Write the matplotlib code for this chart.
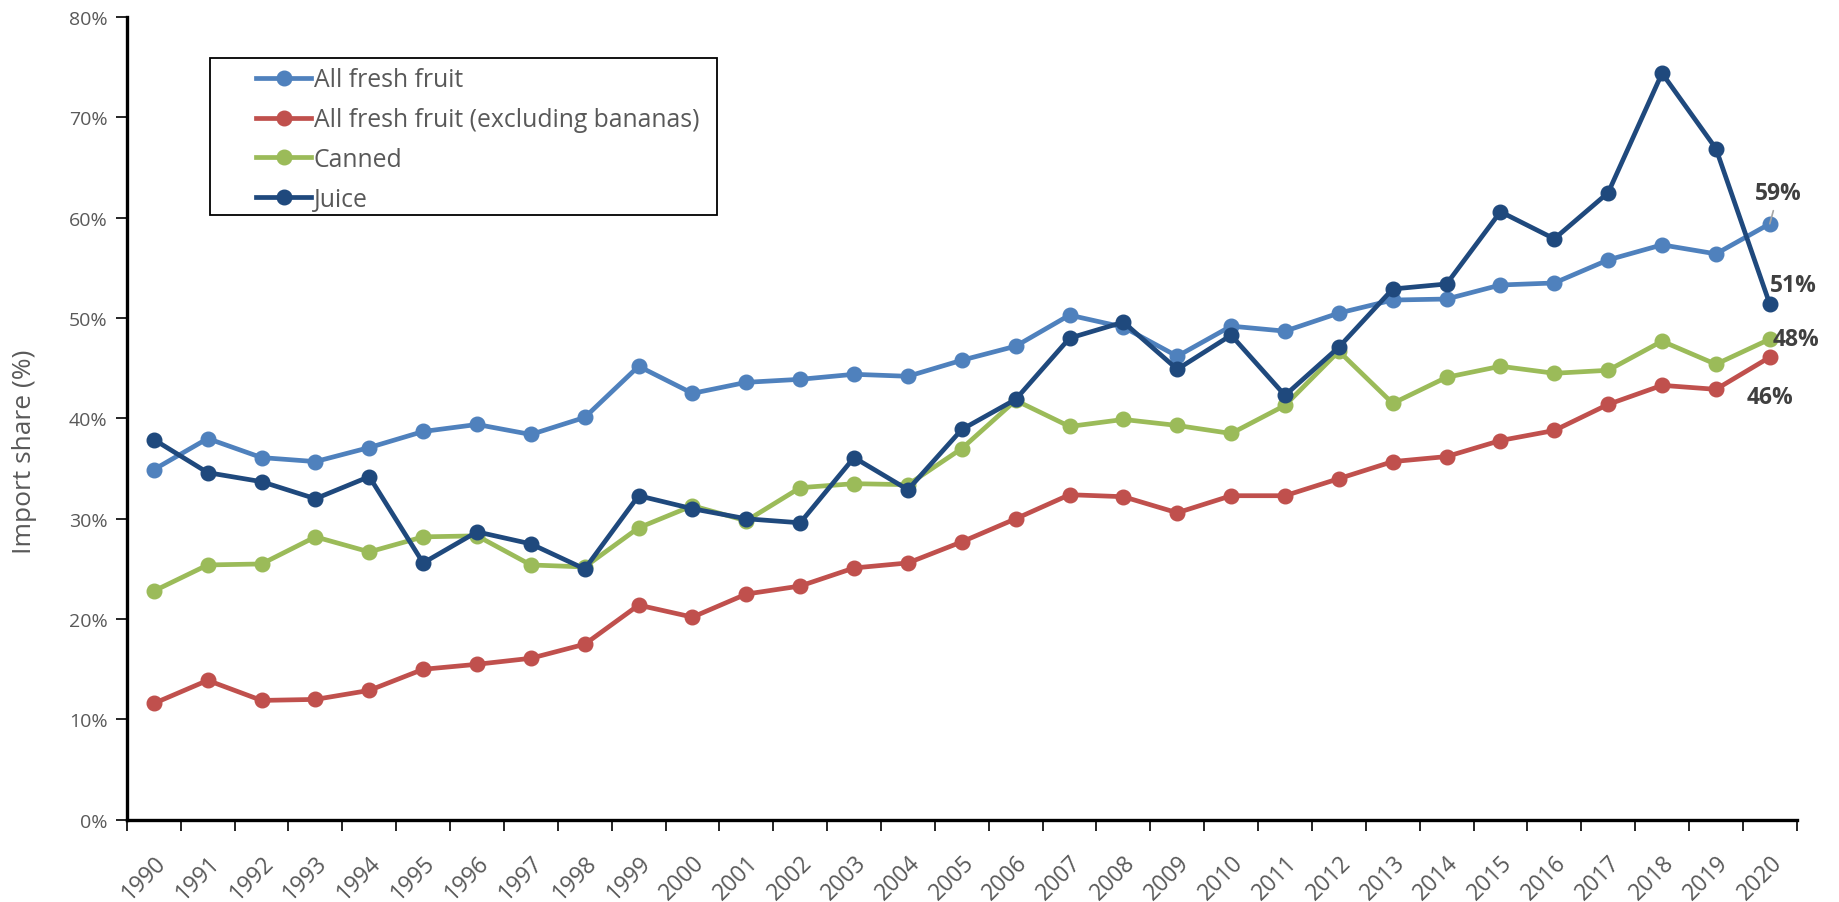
import matplotlib.pyplot as plt
import numpy as np
from matplotlib.lines import Line2D
from matplotlib.patches import Rectangle

plt.rcParams["font.family"] = ["Open Sans", "DejaVu Sans"]

years = list(range(1990, 2021))

# import share, percent
fresh_all = [34.9, 38.0, 36.1, 35.7, 37.1, 38.7, 39.4, 38.4, 40.1, 45.2,
             42.5, 43.6, 43.9, 44.4, 44.2, 45.8, 47.2, 50.3, 49.1, 46.2,
             49.2, 48.7, 50.5, 51.8, 51.9, 53.3, 53.5, 55.8, 57.3, 56.4, 59.4]
fresh_no_bananas = [11.6, 13.9, 11.9, 12.0, 12.9, 15.0, 15.5, 16.1, 17.5, 21.4,
                    20.2, 22.5, 23.3, 25.1, 25.6, 27.7, 30.0, 32.4, 32.2, 30.6,
                    32.3, 32.3, 34.0, 35.7, 36.2, 37.8, 38.8, 41.4, 43.3, 42.9, 46.1]
canned = [22.8, 25.4, 25.5, 28.2, 26.7, 28.2, 28.3, 25.4, 25.2, 29.1,
          31.3, 29.8, 33.1, 33.5, 33.4, 37.0, 41.8, 39.2, 39.9, 39.3,
          38.5, 41.3, 46.7, 41.5, 44.1, 45.2, 44.5, 44.8, 47.7, 45.4, 47.9]
juice = [37.9, 34.6, 33.7, 32.0, 34.2, 25.6, 28.7, 27.5, 25.0, 32.3,
         31.0, 30.0, 29.6, 36.1, 32.9, 38.9, 41.9, 48.0, 49.6, 44.9,
         48.3, 42.3, 47.1, 52.9, 53.4, 60.6, 57.9, 62.5, 74.4, 66.9, 51.4]

series_names = ["All fresh fruit", "All fresh fruit (excluding bananas)", "Canned", "Juice"]
series_values = [fresh_all, fresh_no_bananas, canned, juice]
series_colors = ["#4F81BD", "#C0504D", "#9BBB59", "#1F497D"]

# end-of-line label offsets (points) and alignment
label_offsets = [(6, 22), (0, -20), (2, 0), (0, 5)]
label_align = [("center", "center"), ("center", "top"), ("left", "center"), ("left", "bottom")]

GRAY = "#595959"
LW = 3.4
MS = 10.5

fig = plt.figure(figsize=(18.39, 9.03), dpi=100)
fig.subplots_adjust(left=0.069, right=0.977, bottom=0.091, top=0.98)
ax = fig.add_subplot(111)

x = np.arange(len(years))
for name, vals, col in zip(series_names, series_values, series_colors):
    ax.plot(x, vals, color=col, lw=LW, marker="o", ms=MS,
            solid_joinstyle="round", solid_capstyle="round", label=name)

for i, (vals, col) in enumerate(zip(series_values, series_colors)):
    last = vals[-1]
    ha, va = label_align[i]
    arrow = None
    if i == 0:
        arrow = dict(arrowstyle="-", color="#A6A6A6", lw=1.2, shrinkA=2, shrinkB=0)
    ax.annotate(f"{last:.0f}%", xy=(x[-1], last), xytext=label_offsets[i],
                textcoords="offset points", ha=ha, va=va, fontsize=16.5,
                fontweight="bold", color="#404040", arrowprops=arrow)

ax.set_xlim(-0.5, len(years) - 0.5)
ax.set_ylim(0, 80)
ax.set_yticks(np.arange(0, 81, 10))
ax.set_yticklabels([f"{v}%" for v in range(0, 81, 10)])

# tick marks between categories, labels at category centres
ax.set_xticks(np.arange(-0.5, len(years), 1))
ax.set_xticklabels([])
ax.set_xticks(x, minor=True)
ax.set_xticklabels([str(y) for y in years], minor=True, rotation=45,
                   ha="right", rotation_mode="anchor")
ax.tick_params(axis="x", which="major", length=8, width=1.2, color="black")
ax.tick_params(axis="x", which="minor", length=0, pad=22, labelsize=16.5, labelcolor=GRAY)
ax.tick_params(axis="y", length=8, width=1.2, pad=6, labelsize=14, labelcolor=GRAY)

for s in ["top", "right"]:
    ax.spines[s].set_visible(False)
for s in ["left", "bottom"]:
    ax.spines[s].set_linewidth(2.4)

ax.set_ylabel("Import share (%)", fontsize=19, color=GRAY)
ax.yaxis.set_label_coords(-0.054, 0.46)

handles = [Line2D([], [], color=c, lw=LW, marker="o", ms=MS) for c in series_colors]
leg = fig.legend(handles, series_names, loc="upper left",
                 bbox_to_anchor=(244 / 1839, 1 - 56 / 903),
                 bbox_transform=fig.transFigure, frameon=False, borderpad=0,
                 handlelength=2.2, handletextpad=0.12, labelspacing=0.6,
                 prop={"size": 17.8})
for t in leg.get_texts():
    t.set_color(GRAY)

fig.add_artist(Rectangle((210 / 1839, 1 - 216 / 903), 507 / 1839, 157 / 903,
                         transform=fig.transFigure, fill=False,
                         edgecolor="black", lw=1.3))

fig.savefig("out.png", dpi=100)
